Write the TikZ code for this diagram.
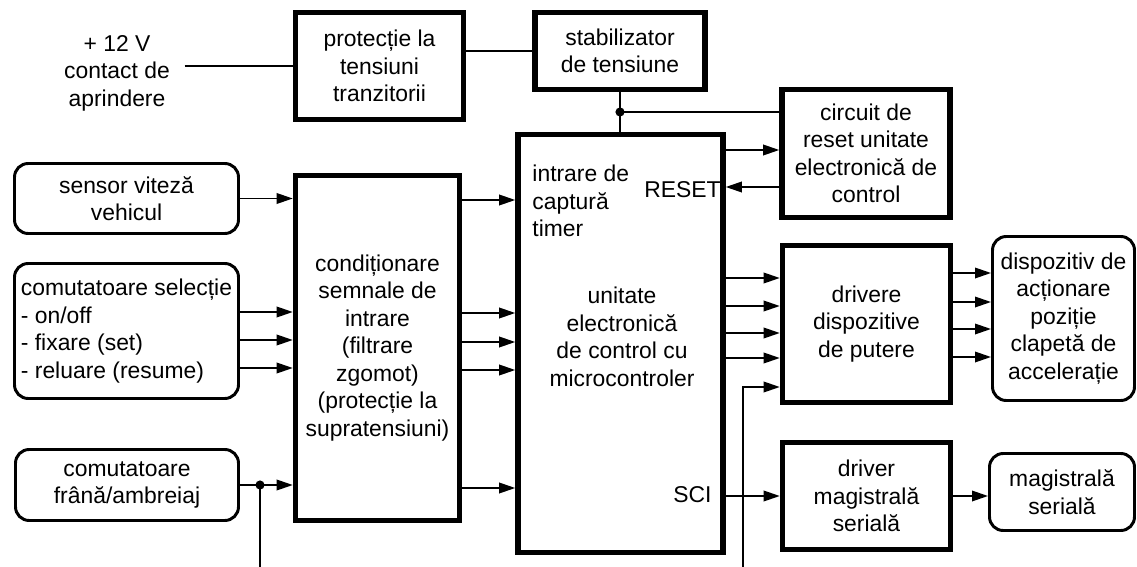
\documentclass[tikz,border=0pt]{standalone}
\usepackage{fontspec}
\setmainfont{Liberation Sans}
\usepackage{tikz}
\usetikzlibrary{positioning, arrows.meta, calc}

\newdimen\pxu
\pxu=0.437pt

\tikzset{
    blk/.style={draw, line width=2.4pt, align=center, inner sep=1pt},
    rblk/.style={draw, line width=1.3pt, rounded corners=6pt, align=center, inner sep=1pt},
    arr/.style={-{Triangle[length=7pt, width=4.6pt]}, line width=0.75pt},
    wire/.style={line width=0.75pt}
}

\begin{document}
\begin{tikzpicture}[
    x=0.437pt, y=-0.437pt,
    every node/.style={font=\fontsize{10}{12}\selectfont}
]
\useasboundingbox (0,0) rectangle (1137,567);

% === supply chain ===
\node[align=center] (ign) at (117,73) {+ 12 V\\contact de\\aprindere};
\node[blk, minimum width={168*\pxu}, minimum height={107*\pxu}] (prot) at (379.5,66) {protecție la\\tensiuni\\tranzitorii};
\node[blk, minimum width={170*\pxu}, minimum height={77*\pxu}] (stab) at (620,51) {stabilizator\\de tensiune};
\node[blk, minimum width={168*\pxu}, minimum height={128*\pxu}] (reset) at (866,153.5) {circuit de\\reset unitate\\electronică de\\control};

% === inputs ===
\node[rblk, minimum width={224*\pxu}, minimum height={70*\pxu}] (sensor) at (126.5,198.5) {sensor viteză\\vehicul};
\node[rblk, align=left, minimum width={224*\pxu}, minimum height={135*\pxu}] (select) at (126.5,331) {comutatoare selecție\\- on/off\\- fixare (set)\\- reluare (resume)};
\node[rblk, minimum width={223*\pxu}, minimum height={71*\pxu}] (frana) at (127,485) {comutatoare\\frână/ambreiaj};

% === signal conditioning ===
\node[blk, minimum width={164*\pxu}, minimum height={345*\pxu}] (cond) at (377.5,348) {condiționare\\semnale de\\intrare\\(filtrare\\zgomot)\\(protecție la\\supratensiuni)};

% === control unit ===
\node[blk, minimum width={205*\pxu}, minimum height={418*\pxu}] (ucc) at (620.5,343.5) {};
\node[align=center] (ucctxt) at (622,337) {unitate\\electronică\\de control cu\\microcontroler};
\node[anchor=west, align=left, inner sep=0pt] (cap) at (532,201) {intrare de\\captură\\timer};
\node[anchor=east, inner sep=0pt] (rst) at (721,190) {RESET};
\node[anchor=east, inner sep=0pt] (sci) at (712,495) {SCI};

% === outputs ===
\node[blk, minimum width={168*\pxu}, minimum height={157*\pxu}] (drv) at (866.5,324) {drivere\\dispozitive\\de putere};
\node[rblk, minimum width={142*\pxu}, minimum height={164*\pxu}] (disp) at (1063.5,318.5) {dispozitiv de\\acționare\\poziție\\clapetă de\\accelerație};
\node[blk, minimum width={168*\pxu}, minimum height={107*\pxu}] (sdrv) at (866.5,496) {driver\\magistrală\\serială};
\node[rblk, minimum width={145*\pxu}, minimum height={77*\pxu}] (bus) at (1062,492) {magistrală\\serială};

% supply wires
\draw[wire] ([xshift=3pt]ign.east |- prot.west) -- (prot.west);
\draw[wire] (prot.east |- stab.west) -- (stab.west);
\draw[wire] (stab.south) -- (ucc.north -| stab.south);
\coordinate (pj) at (stab.south |- 0,112);
\fill (pj) circle (2pt);
\draw[wire] (pj) -- (reset.west |- pj);

% reset handshake
\draw[arr] (ucc.east |- 0,150) -- (reset.west |- 0,150);
\draw[arr] (reset.west |- 0,187) -- (ucc.east |- 0,187);

% inputs into conditioning
\draw[arr] (sensor.east) -- (cond.west |- sensor.east);
\draw[arr] (select.east |- 0,312) -- (cond.west |- 0,312);
\draw[arr] (select.east |- 0,340) -- (cond.west |- 0,340);
\draw[arr] (select.east |- 0,368) -- (cond.west |- 0,368);
\draw[arr] (frana.east) -- (cond.west |- frana.east);
\coordinate (fj) at (260,485);
\coordinate (fbot) at (260,567);
\fill (fj) circle (2pt);
\draw[wire] (fj) -- (fbot);

% conditioning into control unit
\draw[arr] (cond.east |- 0,200) -- (ucc.west |- 0,200);
\draw[arr] (cond.east |- 0,313) -- (ucc.west |- 0,313);
\draw[arr] (cond.east |- 0,342) -- (ucc.west |- 0,342);
\draw[arr] (cond.east |- 0,370) -- (ucc.west |- 0,370);
\draw[arr] (cond.east |- 0,488) -- (ucc.west |- 0,488);

% control unit into drivers
\draw[arr] (ucc.east |- 0,278) -- (drv.west |- 0,278);
\draw[arr] (ucc.east |- 0,306) -- (drv.west |- 0,306);
\draw[arr] (ucc.east |- 0,333) -- (drv.west |- 0,333);
\draw[arr] (ucc.east |- 0,358) -- (drv.west |- 0,358);
\coordinate (tbot) at (743,567);
\draw[arr] (tbot) |- (drv.west |- 0,387);

% drivers into actuator
\draw[arr] (drv.east |- 0,273) -- (disp.west |- 0,273);
\draw[arr] (drv.east |- 0,302) -- (disp.west |- 0,302);
\draw[arr] (drv.east |- 0,329) -- (disp.west |- 0,329);
\draw[arr] (drv.east |- 0,357) -- (disp.west |- 0,357);

% serial line
\draw[arr] (ucc.east |- sdrv.west) -- (sdrv.west);
\draw[arr] (sdrv.east) -- (bus.west |- sdrv.east);

\end{tikzpicture}
\end{document}
